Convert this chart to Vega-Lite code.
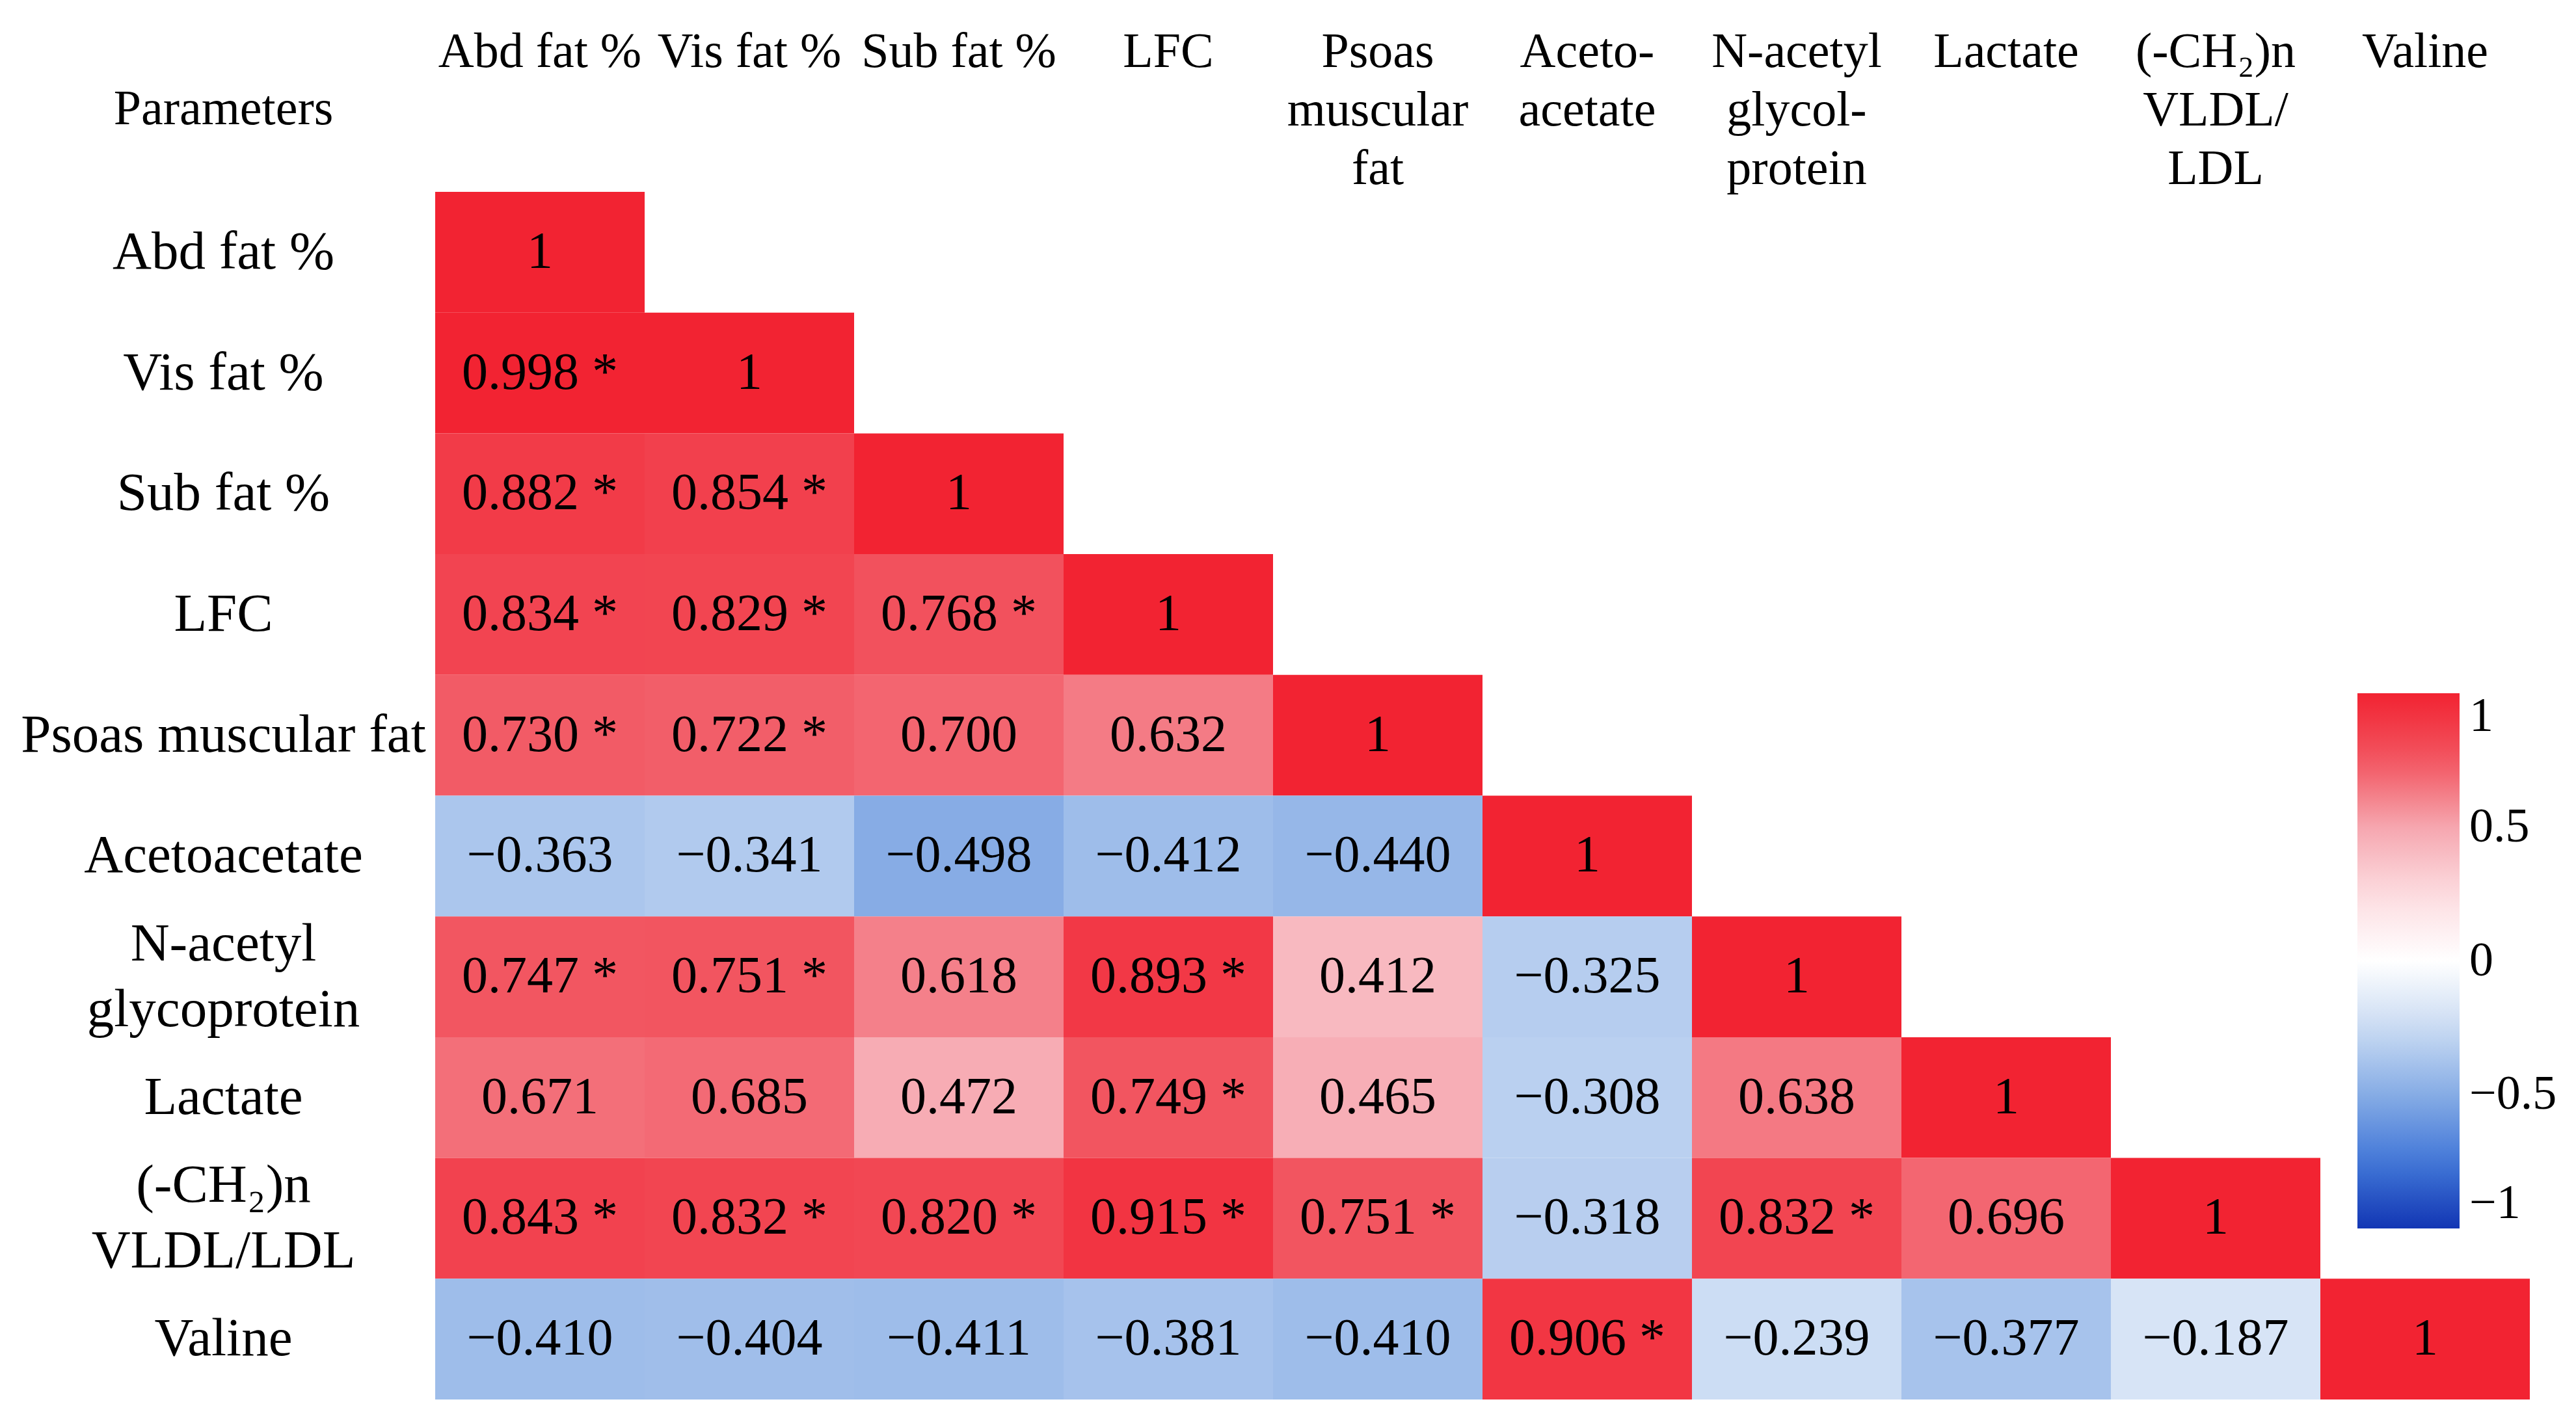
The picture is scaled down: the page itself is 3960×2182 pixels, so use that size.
{
  "$schema": "https://vega.github.io/schema/vega-lite/v6.json",
  "width": 3220,
  "height": 1857,
  "autosize": {"type": "none"},
  "padding": {"left": 669, "top": 295, "right": 71, "bottom": 30},
  "background": "white",
  "config": {"view": {"stroke": null}, "font": "Liberation Serif"},
  "data": {
    "values": [
      {"row": "Abd fat %", "col": "Abd fat %", "r": 1, "label": "1"},
      {"row": "Vis fat %", "col": "Abd fat %", "r": 0.998, "label": "0.998 *"},
      {"row": "Vis fat %", "col": "Vis fat %", "r": 1, "label": "1"},
      {"row": "Sub fat %", "col": "Abd fat %", "r": 0.882, "label": "0.882 *"},
      {"row": "Sub fat %", "col": "Vis fat %", "r": 0.854, "label": "0.854 *"},
      {"row": "Sub fat %", "col": "Sub fat %", "r": 1, "label": "1"},
      {"row": "LFC", "col": "Abd fat %", "r": 0.834, "label": "0.834 *"},
      {"row": "LFC", "col": "Vis fat %", "r": 0.829, "label": "0.829 *"},
      {"row": "LFC", "col": "Sub fat %", "r": 0.768, "label": "0.768 *"},
      {"row": "LFC", "col": "LFC", "r": 1, "label": "1"},
      {"row": "Psoas muscular fat", "col": "Abd fat %", "r": 0.73, "label": "0.730 *"},
      {"row": "Psoas muscular fat", "col": "Vis fat %", "r": 0.722, "label": "0.722 *"},
      {"row": "Psoas muscular fat", "col": "Sub fat %", "r": 0.7, "label": "0.700"},
      {"row": "Psoas muscular fat", "col": "LFC", "r": 0.632, "label": "0.632"},
      {"row": "Psoas muscular fat", "col": "Psoas|muscular|fat", "r": 1, "label": "1"},
      {"row": "Acetoacetate", "col": "Abd fat %", "r": -0.363, "label": "−0.363"},
      {"row": "Acetoacetate", "col": "Vis fat %", "r": -0.341, "label": "−0.341"},
      {"row": "Acetoacetate", "col": "Sub fat %", "r": -0.498, "label": "−0.498"},
      {"row": "Acetoacetate", "col": "LFC", "r": -0.412, "label": "−0.412"},
      {"row": "Acetoacetate", "col": "Psoas|muscular|fat", "r": -0.44, "label": "−0.440"},
      {"row": "Acetoacetate", "col": "Aceto-|acetate", "r": 1, "label": "1"},
      {"row": "N-acetyl|glycoprotein", "col": "Abd fat %", "r": 0.747, "label": "0.747 *"},
      {"row": "N-acetyl|glycoprotein", "col": "Vis fat %", "r": 0.751, "label": "0.751 *"},
      {"row": "N-acetyl|glycoprotein", "col": "Sub fat %", "r": 0.618, "label": "0.618"},
      {"row": "N-acetyl|glycoprotein", "col": "LFC", "r": 0.893, "label": "0.893 *"},
      {"row": "N-acetyl|glycoprotein", "col": "Psoas|muscular|fat", "r": 0.412, "label": "0.412"},
      {"row": "N-acetyl|glycoprotein", "col": "Aceto-|acetate", "r": -0.325, "label": "−0.325"},
      {"row": "N-acetyl|glycoprotein", "col": "N-acetyl|glycol-|protein", "r": 1, "label": "1"},
      {"row": "Lactate", "col": "Abd fat %", "r": 0.671, "label": "0.671"},
      {"row": "Lactate", "col": "Vis fat %", "r": 0.685, "label": "0.685"},
      {"row": "Lactate", "col": "Sub fat %", "r": 0.472, "label": "0.472"},
      {"row": "Lactate", "col": "LFC", "r": 0.749, "label": "0.749 *"},
      {"row": "Lactate", "col": "Psoas|muscular|fat", "r": 0.465, "label": "0.465"},
      {"row": "Lactate", "col": "Aceto-|acetate", "r": -0.308, "label": "−0.308"},
      {"row": "Lactate", "col": "N-acetyl|glycol-|protein", "r": 0.638, "label": "0.638"},
      {"row": "Lactate", "col": "Lactate", "r": 1, "label": "1"},
      {"row": "(-CH₂)n|VLDL/LDL", "col": "Abd fat %", "r": 0.843, "label": "0.843 *"},
      {"row": "(-CH₂)n|VLDL/LDL", "col": "Vis fat %", "r": 0.832, "label": "0.832 *"},
      {"row": "(-CH₂)n|VLDL/LDL", "col": "Sub fat %", "r": 0.82, "label": "0.820 *"},
      {"row": "(-CH₂)n|VLDL/LDL", "col": "LFC", "r": 0.915, "label": "0.915 *"},
      {"row": "(-CH₂)n|VLDL/LDL", "col": "Psoas|muscular|fat", "r": 0.751, "label": "0.751 *"},
      {"row": "(-CH₂)n|VLDL/LDL", "col": "Aceto-|acetate", "r": -0.318, "label": "−0.318"},
      {"row": "(-CH₂)n|VLDL/LDL", "col": "N-acetyl|glycol-|protein", "r": 0.832, "label": "0.832 *"},
      {"row": "(-CH₂)n|VLDL/LDL", "col": "Lactate", "r": 0.696, "label": "0.696"},
      {"row": "(-CH₂)n|VLDL/LDL", "col": "(-CH₂)n|VLDL/|LDL", "r": 1, "label": "1"},
      {"row": "Valine", "col": "Abd fat %", "r": -0.41, "label": "−0.410"},
      {"row": "Valine", "col": "Vis fat %", "r": -0.404, "label": "−0.404"},
      {"row": "Valine", "col": "Sub fat %", "r": -0.411, "label": "−0.411"},
      {"row": "Valine", "col": "LFC", "r": -0.381, "label": "−0.381"},
      {"row": "Valine", "col": "Psoas|muscular|fat", "r": -0.41, "label": "−0.410"},
      {"row": "Valine", "col": "Aceto-|acetate", "r": 0.906, "label": "0.906 *"},
      {"row": "Valine", "col": "N-acetyl|glycol-|protein", "r": -0.239, "label": "−0.239"},
      {"row": "Valine", "col": "Lactate", "r": -0.377, "label": "−0.377"},
      {"row": "Valine", "col": "(-CH₂)n|VLDL/|LDL", "r": -0.187, "label": "−0.187"},
      {"row": "Valine", "col": "Valine", "r": 1, "label": "1"}
    ]
  },
  "encoding": {
    "x": {
      "field": "col",
      "type": "nominal",
      "sort": ["Abd fat %", "Vis fat %", "Sub fat %", "LFC", "Psoas|muscular|fat", "Aceto-|acetate", "N-acetyl|glycol-|protein", "Lactate", "(-CH₂)n|VLDL/|LDL", "Valine"],
      "scale": {"paddingInner": 0, "paddingOuter": 0},
      "axis": {
        "orient": "top",
        "title": null,
        "labelAngle": 0,
        "labelAlign": "center",
        "labelBaseline": "top",
        "labelPadding": 253,
        "labelFont": "Liberation Serif",
        "labelFontSize": 76,
        "labelColor": "black",
        "labelLineHeight": 90,
        "labelLimit": 0,
        "labelOverlap": false,
        "labelBound": false,
        "labelExpr": "split(datum.label, '|')",
        "ticks": false,
        "tickSize": 0,
        "domain": false,
        "grid": false
      }
    },
    "y": {
      "field": "row",
      "type": "nominal",
      "sort": ["Abd fat %", "Vis fat %", "Sub fat %", "LFC", "Psoas muscular fat", "Acetoacetate", "N-acetyl|glycoprotein", "Lactate", "(-CH₂)n|VLDL/LDL", "Valine"],
      "scale": {"paddingInner": 0, "paddingOuter": 0},
      "axis": {
        "title": "Parameters",
        "titleAngle": 0,
        "titleX": -326,
        "titleY": -105,
        "titleAlign": "center",
        "titleBaseline": "alphabetic",
        "titleFont": "Liberation Serif",
        "titleFontSize": 76,
        "titleFontWeight": "normal",
        "titleColor": "black",
        "labelFont": "Liberation Serif",
        "labelFontSize": 83,
        "labelColor": "black",
        "labelAlign": "center",
        "labelBaseline": "middle",
        "labelPadding": 326,
        "labelLimit": 0,
        "labelLineHeight": 101,
        "labelOverlap": false,
        "labelOffset": {"condition": {"test": "indexof(datum.value, '|') >= 0", "value": -50}, "value": 0},
        "labelExpr": "split(datum.label, '|')",
        "ticks": false,
        "tickSize": 0,
        "domain": false,
        "grid": false
      }
    }
  },
  "layer": [
    {
      "mark": {"type": "rect", "strokeWidth": 0},
      "encoding": {
        "color": {
          "field": "r",
          "type": "quantitative",
          "scale": {
            "domain": [-1, -0.75, -0.5, -0.25, 0, 0.25, 0.5, 0.75, 1],
            "range": ["#1236B4", "#4278D8", "#86ACE5", "#CADBF3", "#FFFFFF", "#FCDCE0", "#F6A6AF", "#F25560", "#F22332"],
            "interpolate": "rgb"
          },
          "legend": {
            "orient": "none",
            "legendX": 2955,
            "legendY": 771,
            "direction": "vertical",
            "title": null,
            "gradientLength": 823,
            "gradientThickness": 157,
            "gradientStrokeWidth": 0,
            "values": [1, 0.5, 0, -0.5, -1],
            "format": ".1~f",
            "labelFont": "Liberation Serif",
            "labelFontSize": 74,
            "labelColor": "black",
            "labelOffset": 15,
            "labelOverlap": false
          }
        }
      }
    },
    {
      "mark": {"type": "text", "font": "Liberation Serif", "fontSize": 80, "color": "black", "align": "center", "baseline": "middle"},
      "encoding": {"text": {"field": "label", "type": "nominal"}}
    }
  ]
}
